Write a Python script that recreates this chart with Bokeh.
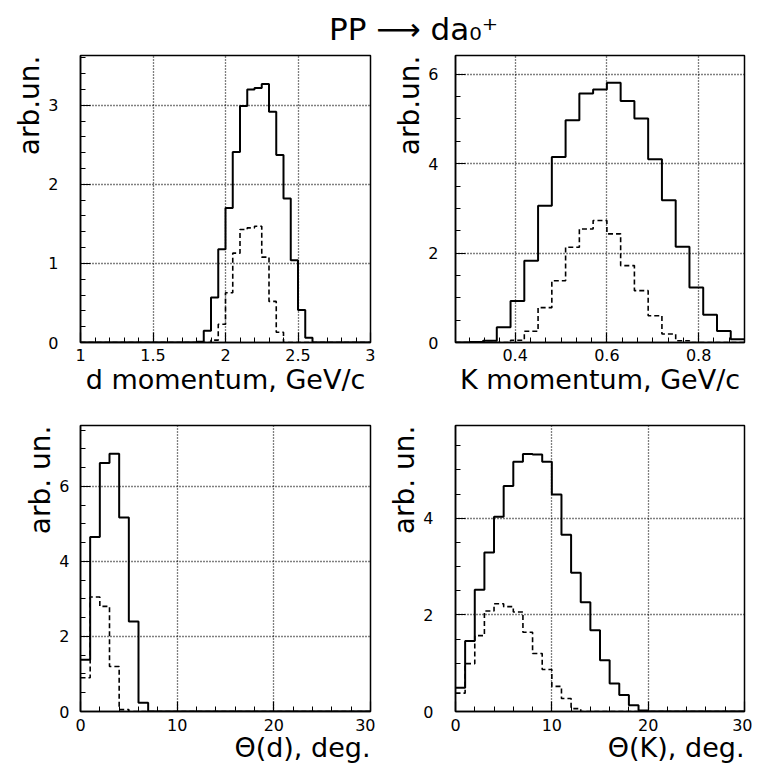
import numpy as np
from bokeh.plotting import figure
from bokeh.models import Range1d, FixedTicker, PrintfTickFormatter, Label, Title
from bokeh.layouts import gridplot, column
from bokeh.embed import file_html
from bokeh.resources import INLINE

FONT = "DejaVu Sans"

# ---------------- data ----------------
title_text = "PP \u27f6 da\u2080\u207a"

# d momentum, GeV/c : 40 bins of 0.05 from 1.0 to 3.0
d_mom_edges = np.linspace(1.0, 3.0, 41)
d_mom_solid = [0, 0, 0, 0, 0, 0, 0, 0, 0, 0, 0, 0, 0, 0, 0, 0,
               0.01, 0.15, 0.57, 1.18, 1.70, 2.41, 2.99, 3.20, 3.22, 3.27, 2.92, 2.37, 1.82, 1.04, 0.41, 0.06,
               0, 0, 0, 0, 0, 0, 0, 0]
d_mom_dashed = [0, 0, 0, 0, 0, 0, 0, 0, 0, 0, 0, 0, 0, 0, 0, 0, 0, 0,
                0.03, 0.23, 0.63, 1.13, 1.43, 1.45, 1.47, 1.08, 0.52, 0.13,
                0, 0, 0, 0, 0, 0, 0, 0, 0, 0, 0, 0]

# K momentum, GeV/c : 21 bins of 0.03 from 0.27 to 0.90
k_mom_edges = np.linspace(0.27, 0.90, 22)
k_mom_solid = [0, 0.01, 0.04, 0.34, 0.93, 1.83, 3.06, 4.15, 4.97, 5.57, 5.66,
               5.81, 5.40, 5.01, 4.10, 3.18, 2.14, 1.23, 0.62, 0.26, 0.07]
k_mom_dashed = [0, 0, 0, 0, 0.05, 0.25, 0.78, 1.38, 2.13, 2.54, 2.73,
                2.43, 1.72, 1.16, 0.60, 0.19, 0.04, 0, 0, 0, 0]

# Theta(d), deg. : 30 bins of 1 deg
theta_edges = np.linspace(0, 30, 31)
theta_d_solid = [1.38, 4.65, 6.62, 6.87, 5.17, 2.40, 0.23, 0, 0, 0,
                 0, 0, 0, 0, 0, 0, 0, 0, 0, 0,
                 0, 0, 0, 0, 0, 0, 0, 0, 0, 0]
theta_d_dashed = [0.90, 3.05, 2.80, 1.20, 0.05, 0, 0, 0, 0, 0,
                  0, 0, 0, 0, 0, 0, 0, 0, 0, 0,
                  0, 0, 0, 0, 0, 0, 0, 0, 0, 0]

# Theta(K), deg.
theta_k_solid = [0.49, 1.46, 2.52, 3.29, 4.03, 4.67, 5.17, 5.33, 5.32, 5.17,
                 4.49, 3.66, 2.87, 2.26, 1.68, 1.06, 0.58, 0.34, 0.13, 0.02,
                 0, 0, 0, 0, 0, 0, 0, 0, 0, 0]
theta_k_dashed = [0.38, 0.99, 1.57, 2.08, 2.23, 2.17, 2.06, 1.64, 1.20, 0.87,
                  0.52, 0.27, 0.06, 0, 0, 0, 0, 0, 0, 0,
                  0, 0, 0, 0, 0, 0, 0, 0, 0, 0]

# ticks
tl_xticks = [1, 1.5, 2, 2.5, 3]
tl_yticks = [0, 1, 2, 3]
tr_xticks = [0.4, 0.6, 0.8]
tr_yticks = [0, 2, 4, 6]
bl_xticks = [0, 10, 20, 30]
bl_yticks = [0, 2, 4, 6]
br_xticks = [0, 10, 20, 30]
br_yticks = [0, 2, 4]


def make_fig(width, height, xr, yr, borders):
    l, r, t, b = borders
    p = figure(width=width, height=height, x_range=Range1d(*xr), y_range=Range1d(*yr),
               toolbar_location=None, output_backend="svg",
               min_border_left=l, min_border_right=r, min_border_top=t, min_border_bottom=b)
    p.background_fill_color = "white"
    p.border_fill_color = "white"
    p.outline_line_color = "black"
    p.outline_line_width = 1.5
    p.outline_line_alpha = 1.0
    return p


def style_axes(p, xt, xminor, yt, yminor, x_ls, y_ls):
    p.xaxis.ticker = FixedTicker(ticks=xt, minor_ticks=list(xminor))
    p.yaxis.ticker = FixedTicker(ticks=yt, minor_ticks=list(yminor))
    p.xaxis.formatter = PrintfTickFormatter(format="%g")
    p.yaxis.formatter = PrintfTickFormatter(format="%g")
    for ax in (p.xaxis, p.yaxis):
        ax.axis_line_color = "black"
        ax.axis_line_width = 1.5
        ax.major_tick_in = 10
        ax.major_tick_out = 0
        ax.minor_tick_in = 5
        ax.minor_tick_out = 0
        ax.major_tick_line_color = "black"
        ax.minor_tick_line_color = "black"
        ax.major_tick_line_width = 1.2
        ax.minor_tick_line_width = 1
        ax.major_label_text_font = FONT
        ax.major_label_text_font_size = "16px"
        ax.major_label_text_color = "black"
        ax.axis_label_text_font = FONT
        ax.axis_label_text_font_size = "27px"
        ax.axis_label_text_font_style = "normal"
        ax.axis_label_text_color = "black"
    p.xaxis.major_label_standoff = x_ls
    p.yaxis.major_label_standoff = y_ls
    for g in (p.xgrid, p.ygrid):
        g.grid_line_color = "black"
        g.grid_line_dash = "1 2"
        g.grid_line_width = 1.3
        g.grid_line_alpha = 1.0


def side_label(p, text, side, size, standoff=0):
    t = Title(text=text, align="right", offset=0, standoff=standoff,
              text_font=FONT, text_font_size=size, text_font_style="normal",
              text_color="black")
    p.add_layout(t, side)


def hist(p, edges, vals, dashed):
    x = list(edges)
    y = list(vals) + [vals[-1]]
    if dashed:
        p.step(x=x, y=y, mode="after", line_color="black", line_width=1.6, line_dash="5 3")
    else:
        p.step(x=x, y=y, mode="after", line_color="black", line_width=2.0)


# ---------------- panels ----------------
tl = make_fig(375, 346, (1.0, 3.0), (0, 3.63), (80, 5, 3, 55))
style_axes(tl, tl_xticks, np.arange(1.0, 3.001, 0.1), tl_yticks, np.arange(0, 3.61, 0.2), 6, 22)
tl.xaxis.axis_label = "d momentum, GeV/c"
tl.xaxis.axis_label_standoff = 0
side_label(tl, "arb.un.", "left", "28px")
hist(tl, d_mom_edges, d_mom_solid, False)
hist(tl, d_mom_edges, d_mom_dashed, True)

tr = make_fig(377, 346, (0.27, 0.90), (0, 6.42), (75, 8, 3, 56))
style_axes(tr, tr_xticks, np.arange(0.3, 0.9, 0.2 / 6), tr_yticks, np.arange(0, 6.41, 0.5), 6, 17)
tr.xaxis.axis_label = "K momentum, GeV/c"
tr.xaxis.axis_label_standoff = 0
side_label(tr, "arb.un.", "left", "28px")
hist(tr, k_mom_edges, k_mom_solid, False)
hist(tr, k_mom_edges, k_mom_dashed, True)

bl = make_fig(375, 366, (0, 30), (0, 7.62), (79, 3, 27, 52))
style_axes(bl, bl_xticks, np.arange(0, 30.1, 2), bl_yticks, np.arange(0, 7.61, 0.5), 7, 11)
side_label(bl, "arb. un.", "left", "28px")
side_label(bl, "\u0398(d), deg.", "below", "27px", -8)
hist(bl, theta_edges, theta_d_solid, False)
hist(bl, theta_edges, theta_d_dashed, True)

br = make_fig(377, 366, (0, 30), (0, 5.92), (80, 5, 26, 53))
style_axes(br, br_xticks, np.arange(0, 30.1, 2), br_yticks, np.arange(0, 5.91, 0.5), 7, 22)
side_label(br, "arb. un.", "left", "28px")
side_label(br, "\u0398(K), deg.", "below", "27px", -8)
hist(br, theta_edges, theta_k_solid, False)
hist(br, theta_edges, theta_k_dashed, True)

# ---------------- title ----------------
tf = figure(width=752, height=52, x_range=Range1d(0, 752), y_range=Range1d(0, 52),
            toolbar_location=None, output_backend="svg", min_border=0)
tf.axis.visible = False
tf.grid.visible = False
tf.outline_line_color = None
tf.add_layout(Label(x=413, y=24, text=title_text, text_align="center",
                    text_baseline="alphabetic", text_font=FONT, text_font_size="31px",
                    text_color="black"))

grid = gridplot([[tl, tr], [bl, br]], toolbar_location=None)
layout = column(tf, grid)

open("out.html", "w").write(file_html(layout, INLINE))
